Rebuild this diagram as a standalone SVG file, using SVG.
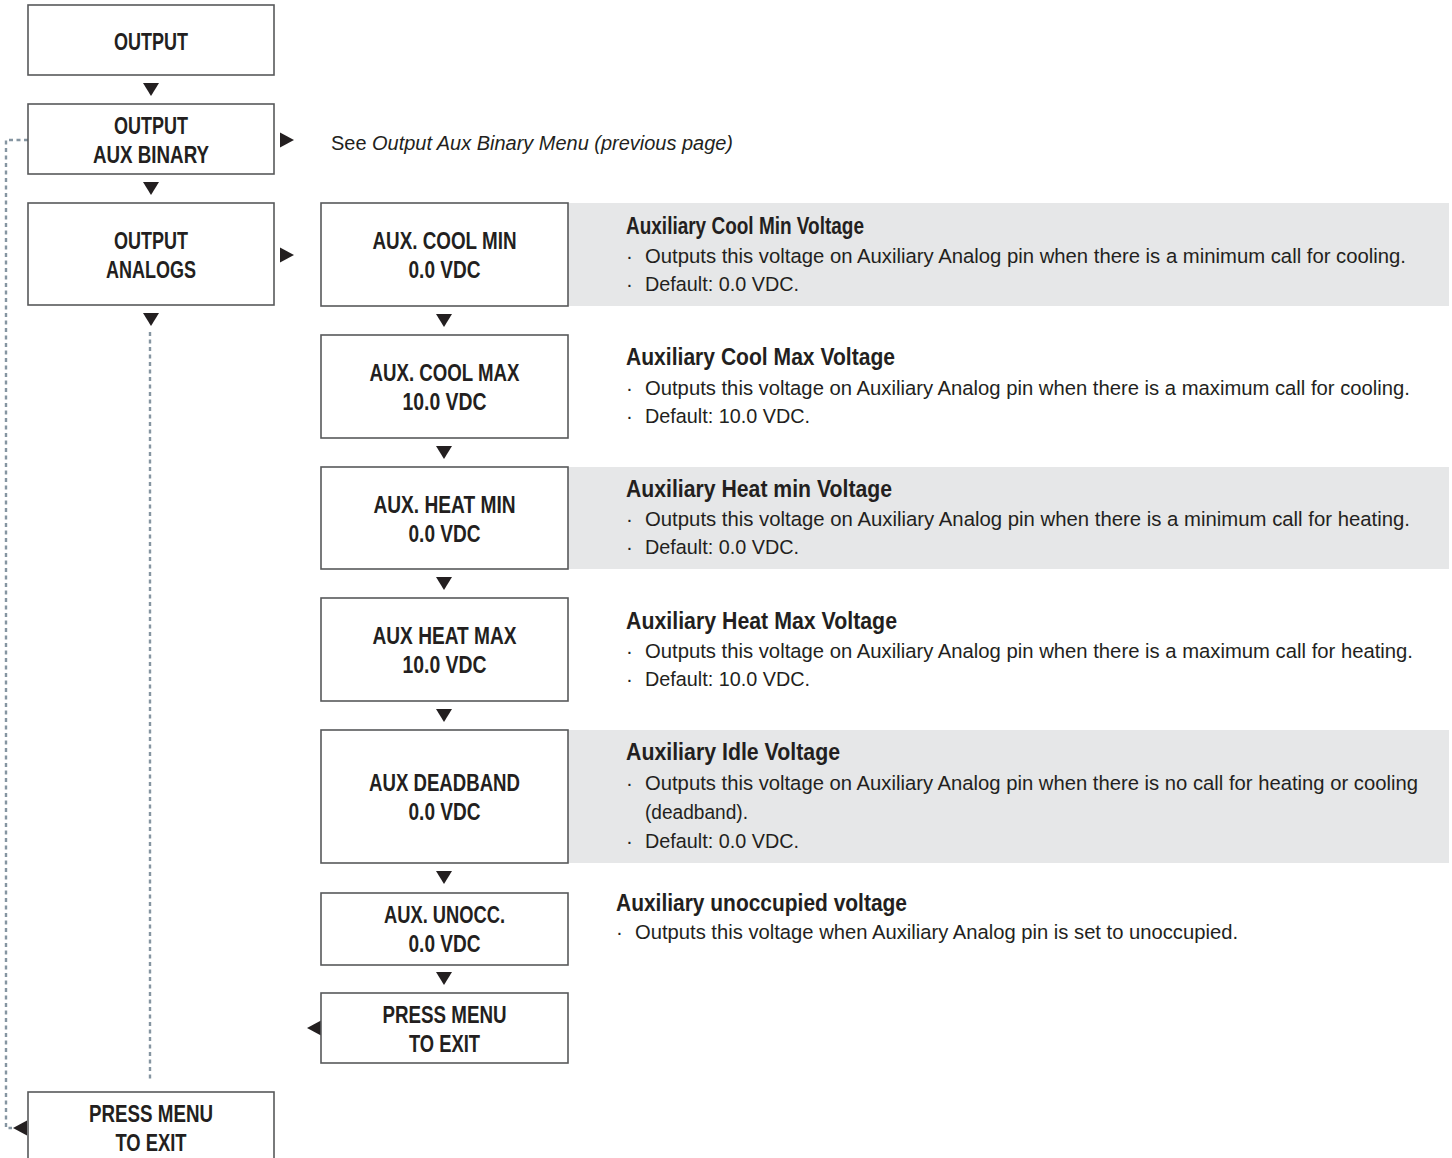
<svg xmlns="http://www.w3.org/2000/svg" xmlns:xlink="http://www.w3.org/1999/xlink" width="1452" height="1158" viewBox="0 0 1452 1158">
<style>
.box{fill:#fff;stroke:#58595b;stroke-width:1.6}
.panel{fill:#e6e7e8;stroke:none}
.lbl{font-family:"Liberation Sans",Arial,sans-serif;font-weight:bold;font-size:24px;fill:#231f20;text-anchor:middle}
.ttl{font-family:"Liberation Sans",Arial,sans-serif;font-weight:bold;font-size:23px;fill:#231f20}
.txt{font-family:"Liberation Sans",Arial,sans-serif;font-size:20.5px;fill:#231f20}
.it{font-style:italic}
.dot{fill:none;stroke:#8595a1;stroke-width:2.4;stroke-dasharray:4 3.5}
.tri{fill:#231f20}
</style>
<defs>
<path id="td" d="M-8,0 L8,0 L0,13 Z"/>
<path id="tr" d="M0,-7.5 L14,0 L0,7.5 Z"/>
<path id="tl" d="M0,-7.5 L-14,0 L0,7.5 Z"/>
</defs>

<g id="panels">
<rect class="panel" x="568" y="203" width="881" height="103"/>
<rect class="panel" x="568" y="467" width="881" height="102"/>
<rect class="panel" x="568" y="730" width="881" height="133"/>
</g>

<g id="connectors">
<path class="dot" d="M28,140 H6 V1128 H12"/>
<path class="dot" d="M150,332 V1082"/>
<use class="tri" xlink:href="#td" x="151" y="83"/>
<use class="tri" xlink:href="#td" x="151" y="182"/>
<use class="tri" xlink:href="#td" x="151" y="313"/>
<use class="tri" xlink:href="#td" x="444" y="314"/>
<use class="tri" xlink:href="#td" x="444" y="446"/>
<use class="tri" xlink:href="#td" x="444" y="577"/>
<use class="tri" xlink:href="#td" x="444" y="709"/>
<use class="tri" xlink:href="#td" x="444" y="871"/>
<use class="tri" xlink:href="#td" x="444" y="972"/>
<use class="tri" xlink:href="#tr" x="280" y="140"/>
<use class="tri" xlink:href="#tr" x="280" y="255"/>
<use class="tri" xlink:href="#tl" x="321" y="1028"/>
<use class="tri" xlink:href="#tl" x="27" y="1128"/>
</g>

<g id="n-output">
<rect class="box" x="28" y="5" width="246" height="70"/>
<text class="lbl" x="151" y="50" textLength="74" lengthAdjust="spacingAndGlyphs">OUTPUT</text>
</g>
<g id="n-output-aux-binary">
<rect class="box" x="28" y="104" width="246" height="70"/>
<text class="lbl" x="151" y="134" textLength="74" lengthAdjust="spacingAndGlyphs">OUTPUT</text>
<text class="lbl" x="151" y="163" textLength="116" lengthAdjust="spacingAndGlyphs">AUX BINARY</text>
</g>
<g id="n-output-analogs">
<rect class="box" x="28" y="203" width="246" height="102"/>
<text class="lbl" x="151" y="249" textLength="74" lengthAdjust="spacingAndGlyphs">OUTPUT</text>
<text class="lbl" x="151" y="278" textLength="90" lengthAdjust="spacingAndGlyphs">ANALOGS</text>
</g>
<g id="n-see">
<text class="txt" x="331" y="150" textLength="402" lengthAdjust="spacingAndGlyphs">See <tspan class="it">Output Aux Binary Menu (previous page)</tspan></text>
</g>

<g id="n-cool-min">
<rect class="box" x="321" y="203" width="247" height="103"/>
<text class="lbl" x="444.5" y="249" textLength="144" lengthAdjust="spacingAndGlyphs">AUX. COOL MIN</text>
<text class="lbl" x="444.5" y="278" textLength="72" lengthAdjust="spacingAndGlyphs">0.0 VDC</text>
</g>
<g id="n-cool-max">
<rect class="box" x="321" y="335" width="247" height="103"/>
<text class="lbl" x="444.5" y="381" textLength="150" lengthAdjust="spacingAndGlyphs">AUX. COOL MAX</text>
<text class="lbl" x="444.5" y="410" textLength="84" lengthAdjust="spacingAndGlyphs">10.0 VDC</text>
</g>
<g id="n-heat-min">
<rect class="box" x="321" y="467" width="247" height="102"/>
<text class="lbl" x="444.5" y="513" textLength="142" lengthAdjust="spacingAndGlyphs">AUX. HEAT MIN</text>
<text class="lbl" x="444.5" y="542" textLength="72" lengthAdjust="spacingAndGlyphs">0.0 VDC</text>
</g>
<g id="n-heat-max">
<rect class="box" x="321" y="598" width="247" height="103"/>
<text class="lbl" x="444.5" y="644" textLength="144" lengthAdjust="spacingAndGlyphs">AUX HEAT MAX</text>
<text class="lbl" x="444.5" y="673" textLength="84" lengthAdjust="spacingAndGlyphs">10.0 VDC</text>
</g>
<g id="n-deadband">
<rect class="box" x="321" y="730" width="247" height="133"/>
<text class="lbl" x="444.5" y="791" textLength="151" lengthAdjust="spacingAndGlyphs">AUX DEADBAND</text>
<text class="lbl" x="444.5" y="820" textLength="72" lengthAdjust="spacingAndGlyphs">0.0 VDC</text>
</g>
<g id="n-unocc">
<rect class="box" x="321" y="893" width="247" height="72"/>
<text class="lbl" x="444.5" y="923" textLength="121" lengthAdjust="spacingAndGlyphs">AUX. UNOCC.</text>
<text class="lbl" x="444.5" y="952" textLength="72" lengthAdjust="spacingAndGlyphs">0.0 VDC</text>
</g>
<g id="n-press-menu-1">
<rect class="box" x="321" y="993" width="247" height="70"/>
<text class="lbl" x="444.5" y="1023" textLength="124" lengthAdjust="spacingAndGlyphs">PRESS MENU</text>
<text class="lbl" x="444.5" y="1052" textLength="71" lengthAdjust="spacingAndGlyphs">TO EXIT</text>
</g>
<g id="n-press-menu-2">
<rect class="box" x="28" y="1092" width="246" height="80"/>
<text class="lbl" x="151" y="1122" textLength="124" lengthAdjust="spacingAndGlyphs">PRESS MENU</text>
<text class="lbl" x="151" y="1151" textLength="71" lengthAdjust="spacingAndGlyphs">TO EXIT</text>
</g>

<g id="d-cool-min">
<text class="ttl" x="626" y="234" textLength="238" lengthAdjust="spacingAndGlyphs">Auxiliary Cool Min Voltage</text>
<text class="txt" x="626" y="263">·</text>
<text class="txt" x="645" y="263" textLength="761" lengthAdjust="spacingAndGlyphs">Outputs this voltage on Auxiliary Analog pin when there is a minimum call for cooling.</text>
<text class="txt" x="626" y="291">·</text>
<text class="txt" x="645" y="291" textLength="154" lengthAdjust="spacingAndGlyphs">Default: 0.0 VDC.</text>
</g>
<g id="d-cool-max">
<text class="ttl" x="626" y="365" textLength="269" lengthAdjust="spacingAndGlyphs">Auxiliary Cool Max Voltage</text>
<text class="txt" x="626" y="395">·</text>
<text class="txt" x="645" y="395" textLength="765" lengthAdjust="spacingAndGlyphs">Outputs this voltage on Auxiliary Analog pin when there is a maximum call for cooling.</text>
<text class="txt" x="626" y="423">·</text>
<text class="txt" x="645" y="423" textLength="165" lengthAdjust="spacingAndGlyphs">Default: 10.0 VDC.</text>
</g>
<g id="d-heat-min">
<text class="ttl" x="626" y="497" textLength="266" lengthAdjust="spacingAndGlyphs">Auxiliary Heat min Voltage</text>
<text class="txt" x="626" y="526">·</text>
<text class="txt" x="645" y="526" textLength="765" lengthAdjust="spacingAndGlyphs">Outputs this voltage on Auxiliary Analog pin when there is a minimum call for heating.</text>
<text class="txt" x="626" y="554">·</text>
<text class="txt" x="645" y="554" textLength="154" lengthAdjust="spacingAndGlyphs">Default: 0.0 VDC.</text>
</g>
<g id="d-heat-max">
<text class="ttl" x="626" y="629" textLength="271" lengthAdjust="spacingAndGlyphs">Auxiliary Heat Max Voltage</text>
<text class="txt" x="626" y="658">·</text>
<text class="txt" x="645" y="658" textLength="768" lengthAdjust="spacingAndGlyphs">Outputs this voltage on Auxiliary Analog pin when there is a maximum call for heating.</text>
<text class="txt" x="626" y="686">·</text>
<text class="txt" x="645" y="686" textLength="165" lengthAdjust="spacingAndGlyphs">Default: 10.0 VDC.</text>
</g>
<g id="d-idle">
<text class="ttl" x="626" y="760" textLength="214" lengthAdjust="spacingAndGlyphs">Auxiliary Idle Voltage</text>
<text class="txt" x="626" y="790">·</text>
<text class="txt" x="645" y="790" textLength="773" lengthAdjust="spacingAndGlyphs">Outputs this voltage on Auxiliary Analog pin when there is no call for heating or cooling</text>
<text class="txt" x="645" y="819" textLength="103" lengthAdjust="spacingAndGlyphs">(deadband).</text>
<text class="txt" x="626" y="848">·</text>
<text class="txt" x="645" y="848" textLength="154" lengthAdjust="spacingAndGlyphs">Default: 0.0 VDC.</text>
</g>
<g id="d-unocc">
<text class="ttl" x="616" y="911" textLength="291" lengthAdjust="spacingAndGlyphs">Auxiliary unoccupied voltage</text>
<text class="txt" x="616" y="939">·</text>
<text class="txt" x="635" y="939" textLength="603" lengthAdjust="spacingAndGlyphs">Outputs this voltage when Auxiliary Analog pin is set to unoccupied.</text>
</g>
</svg>
